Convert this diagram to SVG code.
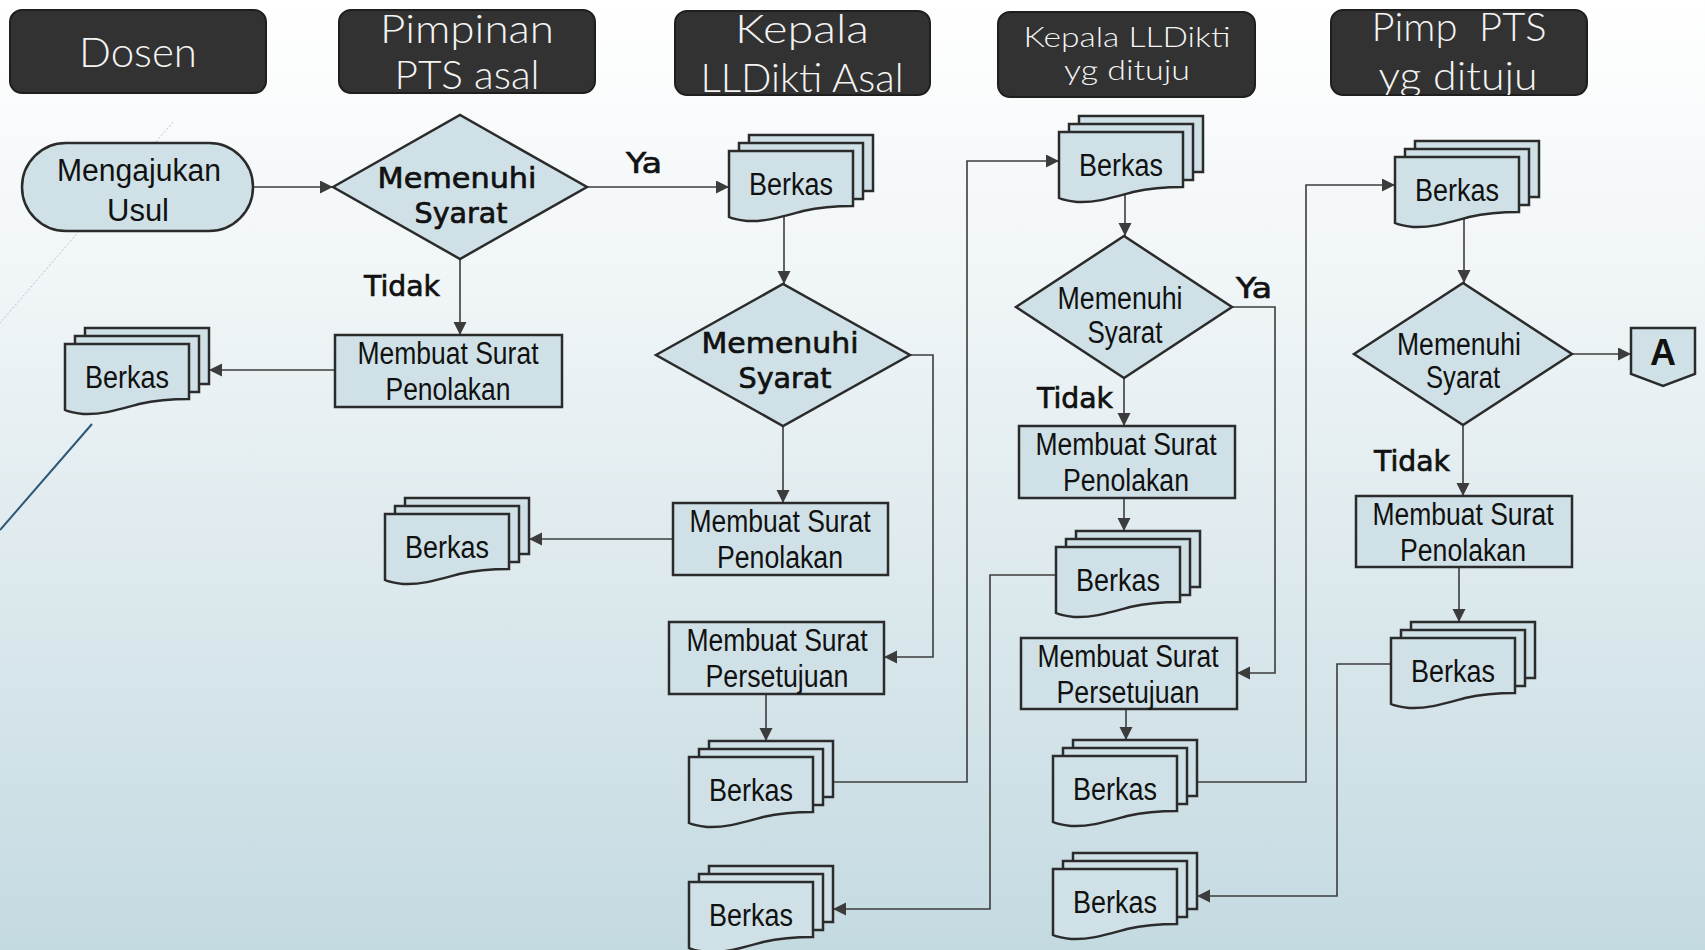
<svg xmlns="http://www.w3.org/2000/svg" xmlns:xlink="http://www.w3.org/1999/xlink" width="1705" height="950" viewBox="0 0 1705 950">
<style>
.hdr{fill:#323232;stroke:#1e1e1e;stroke-width:2}
.ht{fill:#f4f4f4;font-family:"Lato","Open Sans",sans-serif;font-weight:300;text-anchor:middle}
.shape{fill:#cfe1e7;stroke:#2b2b2b;stroke-width:2.5;stroke-linejoin:miter}
.nt{fill:#111;font-family:"Liberation Sans Narrow","Liberation Sans",Arial,sans-serif;font-size:31px;text-anchor:middle}
.bt{fill:#111;stroke:#111;stroke-width:0.7;font-family:"DejaVu Sans",Verdana,sans-serif;font-size:29px;text-anchor:middle}
.conn{fill:none;stroke:#3c3c3c;stroke-width:1.6}
.at{fill:#111;font-family:"Liberation Sans",Arial,sans-serif;font-weight:bold;font-size:36px;text-anchor:middle}
</style>
<defs>
<linearGradient id="bg" x1="0" y1="0" x2="0" y2="1">
<stop offset="0" stop-color="#ffffff"/>
<stop offset="0.3" stop-color="#f0f5f7"/>
<stop offset="1" stop-color="#c4dae1"/>
</linearGradient>
<marker id="arr" markerUnits="userSpaceOnUse" markerWidth="14" markerHeight="14" refX="13" refY="6.5" orient="auto">
<path d="M0,0 L13,6.5 L0,13 Z" fill="#3c3c3c"/>
</marker>
<g id="md">
<rect class="shape" x="20" y="-16" width="124" height="56"/>
<rect class="shape" x="10" y="-8" width="124" height="56"/>
<path class="shape" d="M0,0 H124 V55 C108,55 92,56 74,60 C52,66 36,71 18,70 C10,69 4,68 0,66 Z"/>
</g>
<clipPath id="c1"><rect x="10" y="10" width="256" height="83" rx="12"/></clipPath>
<clipPath id="c2"><rect x="339" y="10" width="256" height="83" rx="12"/></clipPath>
<clipPath id="c3"><rect x="675" y="11" width="255" height="84" rx="12"/></clipPath>
<clipPath id="c4"><rect x="998" y="12" width="257" height="85" rx="12"/></clipPath>
<clipPath id="c5"><rect x="1331" y="10" width="256" height="85" rx="12"/></clipPath>
</defs>
<rect x="0" y="0" width="1705" height="950" fill="url(#bg)"/>
<g id="decor">
<path d="M173,122 L0,323" stroke="#9aa8b2" stroke-width="1" stroke-dasharray="2 2" fill="none" opacity="0.7"/>
<path d="M92,424 L0,530" stroke="#2d5775" stroke-width="2" fill="none"/>
</g>
<g id="headers">
<g id="h-dosen"><rect class="hdr" x="10" y="10" width="256" height="83" rx="12"/>
<text class="ht" x="138" y="67" font-size="42" textLength="118" lengthAdjust="spacingAndGlyphs" clip-path="url(#c1)">Dosen</text></g>
<g id="h-pimpinan"><rect class="hdr" x="339" y="10" width="256" height="83" rx="12"/>
<g clip-path="url(#c2)"><text class="ht" x="467" y="43" font-size="39" textLength="174" lengthAdjust="spacingAndGlyphs">Pimpinan</text>
<text class="ht" x="467" y="89" font-size="39" textLength="145" lengthAdjust="spacingAndGlyphs">PTS asal</text></g></g>
<g id="h-lldikti-asal"><rect class="hdr" x="675" y="11" width="255" height="84" rx="12"/>
<g clip-path="url(#c3)"><text class="ht" x="802" y="43" font-size="39" textLength="134" lengthAdjust="spacingAndGlyphs">Kepala</text>
<text class="ht" x="802" y="92" font-size="39" textLength="203" lengthAdjust="spacingAndGlyphs">LLDikti Asal</text></g></g>
<g id="h-lldikti-tuju"><rect class="hdr" x="998" y="12" width="257" height="85" rx="12"/>
<g clip-path="url(#c4)"><text class="ht" x="1127" y="47" font-size="28" textLength="207" lengthAdjust="spacingAndGlyphs">Kepala LLDikti</text>
<text class="ht" x="1127" y="80" font-size="28" textLength="126" lengthAdjust="spacingAndGlyphs">yg dituju</text></g></g>
<g id="h-pimp-tuju"><rect class="hdr" x="1331" y="10" width="256" height="85" rx="12"/>
<g clip-path="url(#c5)"><text class="ht" x="1459" y="41" font-size="39" textLength="175" lengthAdjust="spacingAndGlyphs">Pimp&#160; PTS</text>
<text class="ht" x="1458" y="90" font-size="39" textLength="159" lengthAdjust="spacingAndGlyphs">yg dituju</text></g></g>
</g>
<g id="connectors">
<path class="conn" d="M253,187 H333" marker-end="url(#arr)"/>
<path class="conn" d="M587,187 H729" marker-end="url(#arr)"/>
<path class="conn" d="M460,259 V335" marker-end="url(#arr)"/>
<path class="conn" d="M335,370 H209" marker-end="url(#arr)"/>
<path class="conn" d="M784,212 V284" marker-end="url(#arr)"/>
<path class="conn" d="M783,426 V503" marker-end="url(#arr)"/>
<path class="conn" d="M673,539 H529" marker-end="url(#arr)"/>
<path class="conn" d="M910,355 H933 V657 H884" marker-end="url(#arr)"/>
<path class="conn" d="M766,694 V741" marker-end="url(#arr)"/>
<path class="conn" d="M833,782 H967 V161 H1059" marker-end="url(#arr)"/>
<path class="conn" d="M1125,192 V236" marker-end="url(#arr)"/>
<path class="conn" d="M1124,378 V426" marker-end="url(#arr)"/>
<path class="conn" d="M1124,498 V531" marker-end="url(#arr)"/>
<path class="conn" d="M1056,575 H990 V909 H833" marker-end="url(#arr)"/>
<path class="conn" d="M1232,307 H1275 V673 H1237" marker-end="url(#arr)"/>
<path class="conn" d="M1126,709 V740" marker-end="url(#arr)"/>
<path class="conn" d="M1197,782 H1306 V185 H1395" marker-end="url(#arr)"/>
<path class="conn" d="M1464,218 V283" marker-end="url(#arr)"/>
<path class="conn" d="M1463,425 V496" marker-end="url(#arr)"/>
<path class="conn" d="M1459,567 V622" marker-end="url(#arr)"/>
<path class="conn" d="M1391,664 H1337 V896 H1197" marker-end="url(#arr)"/>
<path class="conn" d="M1572,354 H1631" marker-end="url(#arr)"/>
</g>
<g id="labels">
<text class="bt" x="402" y="296" textLength="76" lengthAdjust="spacingAndGlyphs">Tidak</text>
<text class="bt" x="644" y="173" textLength="36" lengthAdjust="spacingAndGlyphs">Ya</text>
<text class="bt" x="1075" y="408" textLength="76" lengthAdjust="spacingAndGlyphs">Tidak</text>
<text class="bt" x="1254" y="298" textLength="36" lengthAdjust="spacingAndGlyphs">Ya</text>
<text class="bt" x="1412" y="471" textLength="76" lengthAdjust="spacingAndGlyphs">Tidak</text>
</g>
<g id="n-mengajukan"><rect class="shape" x="22" y="143" width="231" height="88" rx="44"/>
<text class="nt" x="139" y="181" font-size="35" textLength="164" lengthAdjust="spacingAndGlyphs">Mengajukan</text>
<text class="nt" x="138" y="221" font-size="35" textLength="62" lengthAdjust="spacingAndGlyphs">Usul</text></g>
<g id="n-d1"><polygon class="shape" points="333,187 460,115 587,187 460,259"/>
<text class="bt" x="457" y="188" textLength="159" lengthAdjust="spacingAndGlyphs">Memenuhi</text>
<text class="bt" x="461" y="223" textLength="93" lengthAdjust="spacingAndGlyphs">Syarat</text></g>
<g id="n-r1"><rect class="shape" x="335" y="335" width="227" height="72"/>
<text class="nt" x="448" y="364" textLength="181" lengthAdjust="spacingAndGlyphs">Membuat Surat</text>
<text class="nt" x="448" y="400" textLength="125" lengthAdjust="spacingAndGlyphs">Penolakan</text></g>
<g id="n-b1" transform="translate(65,344)"><use xlink:href="#md" href="#md"/><text class="nt" x="62" y="44" font-size="30" textLength="84" lengthAdjust="spacingAndGlyphs">Berkas</text></g>
<g id="n-b2" transform="translate(729,151)"><use xlink:href="#md" href="#md"/><text class="nt" x="62" y="44" font-size="30" textLength="84" lengthAdjust="spacingAndGlyphs">Berkas</text></g>
<g id="n-d2"><polygon class="shape" points="656,355 783,284 910,355 783,426"/>
<text class="bt" x="780" y="353" textLength="157" lengthAdjust="spacingAndGlyphs">Memenuhi</text>
<text class="bt" x="785" y="388" textLength="93" lengthAdjust="spacingAndGlyphs">Syarat</text></g>
<g id="n-r2"><rect class="shape" x="673" y="503" width="215" height="72"/>
<text class="nt" x="780" y="532" textLength="181" lengthAdjust="spacingAndGlyphs">Membuat Surat</text>
<text class="nt" x="780" y="568" textLength="126" lengthAdjust="spacingAndGlyphs">Penolakan</text></g>
<g id="n-b3" transform="translate(385,514)"><use xlink:href="#md" href="#md"/><text class="nt" x="62" y="44" font-size="30" textLength="84" lengthAdjust="spacingAndGlyphs">Berkas</text></g>
<g id="n-r3"><rect class="shape" x="669" y="622" width="215" height="72"/>
<text class="nt" x="777" y="651" textLength="181" lengthAdjust="spacingAndGlyphs">Membuat Surat</text>
<text class="nt" x="777" y="687" textLength="143" lengthAdjust="spacingAndGlyphs">Persetujuan</text></g>
<g id="n-b4" transform="translate(689,757)"><use xlink:href="#md" href="#md"/><text class="nt" x="62" y="44" font-size="30" textLength="84" lengthAdjust="spacingAndGlyphs">Berkas</text></g>
<g id="n-b5" transform="translate(689,882)"><use xlink:href="#md" href="#md"/><text class="nt" x="62" y="44" font-size="30" textLength="84" lengthAdjust="spacingAndGlyphs">Berkas</text></g>
<g id="n-b6" transform="translate(1059,132)"><use xlink:href="#md" href="#md"/><text class="nt" x="62" y="44" font-size="30" textLength="84" lengthAdjust="spacingAndGlyphs">Berkas</text></g>
<g id="n-d3"><polygon class="shape" points="1016,307 1124,236 1232,307 1124,378"/>
<text class="nt" x="1120" y="309" textLength="125" lengthAdjust="spacingAndGlyphs">Memenuhi</text>
<text class="nt" x="1125" y="343" textLength="75" lengthAdjust="spacingAndGlyphs">Syarat</text></g>
<g id="n-r4"><rect class="shape" x="1019" y="426" width="216" height="72"/>
<text class="nt" x="1126" y="455" textLength="181" lengthAdjust="spacingAndGlyphs">Membuat Surat</text>
<text class="nt" x="1126" y="491" textLength="126" lengthAdjust="spacingAndGlyphs">Penolakan</text></g>
<g id="n-b7" transform="translate(1056,547)"><use xlink:href="#md" href="#md"/><text class="nt" x="62" y="44" font-size="30" textLength="84" lengthAdjust="spacingAndGlyphs">Berkas</text></g>
<g id="n-r5"><rect class="shape" x="1021" y="638" width="216" height="71"/>
<text class="nt" x="1128" y="667" textLength="181" lengthAdjust="spacingAndGlyphs">Membuat Surat</text>
<text class="nt" x="1128" y="703" textLength="143" lengthAdjust="spacingAndGlyphs">Persetujuan</text></g>
<g id="n-b8" transform="translate(1053,756)"><use xlink:href="#md" href="#md"/><text class="nt" x="62" y="44" font-size="30" textLength="84" lengthAdjust="spacingAndGlyphs">Berkas</text></g>
<g id="n-b9" transform="translate(1053,869)"><use xlink:href="#md" href="#md"/><text class="nt" x="62" y="44" font-size="30" textLength="84" lengthAdjust="spacingAndGlyphs">Berkas</text></g>
<g id="n-b10" transform="translate(1395,157)"><use xlink:href="#md" href="#md"/><text class="nt" x="62" y="44" font-size="30" textLength="84" lengthAdjust="spacingAndGlyphs">Berkas</text></g>
<g id="n-d4"><polygon class="shape" points="1354,354 1463,283 1572,354 1463,425"/>
<text class="nt" x="1459" y="355" textLength="124" lengthAdjust="spacingAndGlyphs">Memenuhi</text>
<text class="nt" x="1463" y="388" textLength="74" lengthAdjust="spacingAndGlyphs">Syarat</text></g>
<g id="n-r6"><rect class="shape" x="1356" y="496" width="216" height="71"/>
<text class="nt" x="1463" y="525" textLength="181" lengthAdjust="spacingAndGlyphs">Membuat Surat</text>
<text class="nt" x="1463" y="561" textLength="126" lengthAdjust="spacingAndGlyphs">Penolakan</text></g>
<g id="n-b11" transform="translate(1391,638)"><use xlink:href="#md" href="#md"/><text class="nt" x="62" y="44" font-size="30" textLength="84" lengthAdjust="spacingAndGlyphs">Berkas</text></g>
<g id="n-a"><path class="shape" d="M1631,328 H1695 V374 L1663,386 L1631,374 Z"/>
<text class="at" x="1663" y="365">A</text></g>
</svg>
